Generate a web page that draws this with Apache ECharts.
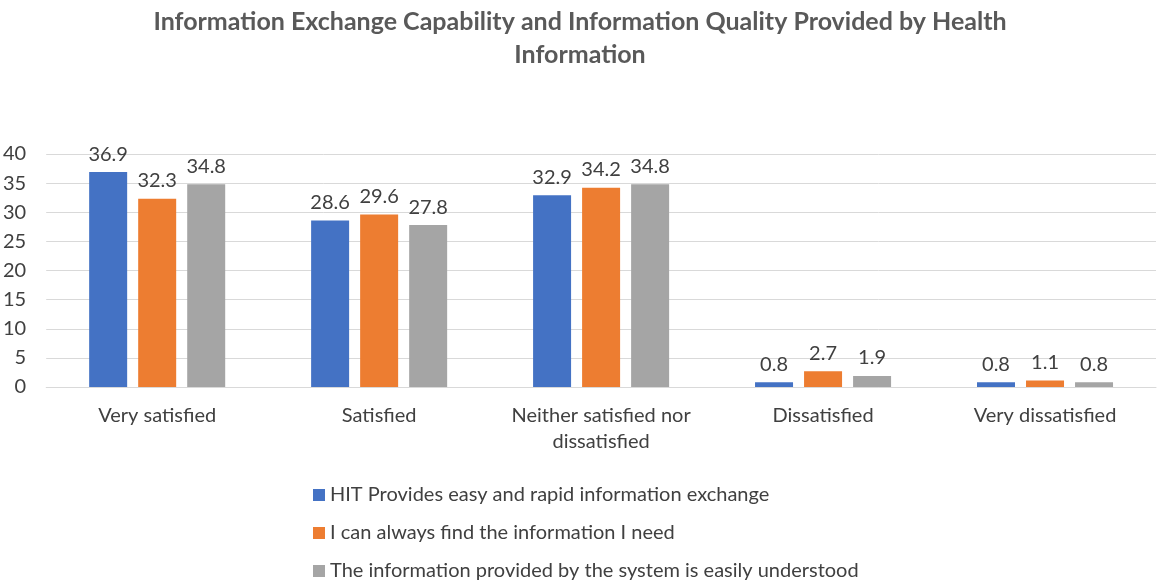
<!DOCTYPE html>
<html>
<head>
<meta charset="utf-8">
<script src="https://cdn.jsdelivr.net/npm/echarts@6/dist/echarts.min.js"></script>
<style>
  html, body { margin: 0; padding: 0; background: #fff; }
  #chart { width: 1160px; height: 587px; }
</style>
</head>
<body>
<div id="chart"></div>
<script>
// 数据
const categories = ['Very satisfied', 'Satisfied', 'Neither satisfied nor\ndissatisfied', 'Dissatisfied', 'Very dissatisfied']
const seriesNames = [
  'HIT Provides easy and rapid information exchange',
  'I can always find the information I need',
  'The information provided by the system is easily understood'
]
const hitValues = [36.9, 28.6, 32.9, 0.8, 0.8]
const findValues = [32.3, 29.6, 34.2, 2.7, 1.1]
const understoodValues = [34.8, 27.8, 34.8, 1.9, 0.8]
const colors = ['#4472C4', '#ED7D31', '#A5A5A5']

const font = 'Lato, "Open Sans", sans-serif'
const myChart = echarts.init(document.getElementById('chart'))

const makeSeries = (name, data) => ({
  name: name,
  type: 'bar',
  data: data,
  barWidth: 38,
  barGap: '29%',
  label: {
    show: true,
    position: 'top',
    distance: 8,
    color: '#404040',
    fontSize: 20,
    fontFamily: font
  }
})

let option = {
  color: colors,
  title: {
    text: 'Information Exchange Capability and Information Quality Provided by Health\nInformation',
    left: 'center',
    top: 0,
    textStyle: {
      color: '#595959',
      fontSize: 25,
      fontWeight: 'bold',
      fontFamily: font,
      lineHeight: 33
    }
  },
  legend: {
    orient: 'vertical',
    left: 308,
    top: 480,
    height: 200,
    itemWidth: 12,
    itemHeight: 12,
    itemGap: 18,
    icon: 'rect',
    textStyle: {
      color: '#404040',
      fontSize: 20,
      fontFamily: font
    },
    data: seriesNames
  },
  grid: {
    left: 46,
    right: 4,
    top: 154,
    bottom: 200,
    containLabel: false
  },
  xAxis: {
    type: 'category',
    data: categories,
    axisLine: { show: true, lineStyle: { color: '#D9D9D9' } },
    axisTick: { show: false },
    axisLabel: {
      color: '#404040',
      fontSize: 20,
      fontFamily: font,
      margin: 16,
      lineHeight: 26,
      interval: 0
    }
  },
  yAxis: {
    type: 'value',
    min: 0,
    max: 40,
    interval: 5,
    axisLine: { show: false },
    axisTick: { show: false },
    axisLabel: {
      color: '#404040',
      fontSize: 20,
      fontFamily: font,
      margin: 20
    },
    splitLine: { lineStyle: { color: '#D9D9D9', width: 1 } }
  },
  series: [
    makeSeries(seriesNames[0], hitValues),
    makeSeries(seriesNames[1], findValues),
    makeSeries(seriesNames[2], understoodValues)
  ]
}

option && myChart.setOption(option)
</script>
</body>
</html>
